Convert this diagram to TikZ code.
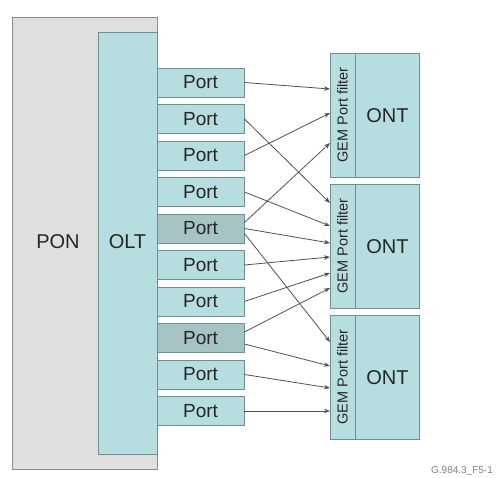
\documentclass[tikz,border=0pt]{standalone}
\usepackage{fontspec}
\setmainfont{Liberation Sans}
\usetikzlibrary{arrows.meta,calc}
\definecolor{ponfill}{HTML}{DFDFDF}
\definecolor{ponline}{HTML}{8C8C8C}
\definecolor{tealfill}{HTML}{B6DDE0}
\definecolor{tealline}{HTML}{6E8E92}
\definecolor{darkport}{HTML}{A6C4C3}
\definecolor{txt}{HTML}{262626}
\definecolor{wire}{HTML}{505050}
\begin{document}
\begin{tikzpicture}[x=1pt,y=-1pt,
  ponbox/.style={draw=ponline,line width=1pt,fill=ponfill,inner sep=0pt},
  oltbox/.style={draw=tealline,line width=0.9pt,fill=tealfill,inner sep=0pt},
  portbox/.style={draw=tealline,line width=0.9pt,fill=tealfill,minimum width=87pt,minimum height=29pt,inner sep=0pt,text=txt,font=\fontsize{19}{22}\selectfont},
  mportbox/.style={portbox,fill=darkport},
  ontbody/.style={draw=tealline,line width=0.9pt,fill=tealfill,minimum width=64pt,minimum height=124pt,inner sep=0pt,anchor=north west,text=txt,font=\fontsize{20}{24}\selectfont},
  gemstrip/.style={draw=tealline,line width=0.9pt,fill=tealfill,minimum width=124pt,minimum height=25pt,inner sep=0pt,rotate=90,text=txt,font=\fontsize{14.5}{16}\selectfont},
  biglabel/.style={text=txt,font=\fontsize{20}{24}\selectfont,inner sep=0pt},
  wirearrow/.style={draw=wire,line width=0.8pt,-{Stealth[length=6pt,width=4.5pt]}}
]
\useasboundingbox (0,0) rectangle (501,478);
% PON and OLT
\node[ponbox,minimum width=145pt,minimum height=452pt,anchor=north west] (pon) at (12,17) {};
\node[oltbox,minimum width=59pt,minimum height=422pt,anchor=north west] (olt) at (98,32) {};
\node[biglabel] (ponlbl) at (58,242) {PON};
\node[biglabel] (oltlbl) at (127.5,242) {OLT};
% Ports
\node[portbox] (p1) at (200.5,82.5) {Port};
\node[portbox] (p2) at (200.5,119) {Port};
\node[portbox] (p3) at (200.5,155.5) {Port};
\node[portbox] (p4) at (200.5,192) {Port};
\node[mportbox] (p5) at (200.5,228.5) {Port};
\node[portbox] (p6) at (200.5,265) {Port};
\node[portbox] (p7) at (200.5,301.5) {Port};
\node[mportbox] (p8) at (200.5,338) {Port};
\node[portbox] (p9) at (200.5,374.5) {Port};
\node[portbox] (p10) at (200.5,411) {Port};
% ONTs
\node[ontbody] (o1) at (355,53) {ONT};
\node[gemstrip] (g1) at (342.5,115) {GEM Port filter};
\node[ontbody] (o2) at (355,184) {ONT};
\node[gemstrip] (g2) at (342.5,246) {GEM Port filter};
\node[ontbody] (o3) at (355,315) {ONT};
\node[gemstrip] (g3) at (342.5,377) {GEM Port filter};
% arrow targets
\coordinate (a1) at (330,89);
\coordinate (a2) at (330,113);
\coordinate (a3) at (330,143);
\coordinate (b1) at (330,203);
\coordinate (b2) at (330,226);
\coordinate (b3) at (330,243);
\coordinate (b4) at (330,257);
\coordinate (b5) at (330,273);
\coordinate (b6) at (330,288);
\coordinate (c1) at (330,342);
\coordinate (c2) at (330,366);
\coordinate (c3) at (330,388);
\coordinate (c4) at (330,411);
% connectors
\draw[wirearrow] (p1.east) -- (a1);
\draw[wirearrow] (p2.east) -- (b1);
\draw[wirearrow] (p3.east) -- (a2);
\draw[wirearrow] (p4.east) -- (b2);
\draw[wirearrow] ($(p5.east)+(0,-6)$) -- (a3);
\draw[wirearrow] (p5.east) -- (b3);
\draw[wirearrow] ($(p5.east)+(0,5)$) -- (c1);
\draw[wirearrow] (p6.east) -- (b4);
\draw[wirearrow] (p7.east) -- (b5);
\draw[wirearrow] ($(p8.east)+(0,-6)$) -- (b6);
\draw[wirearrow] ($(p8.east)+(0,6)$) -- (c2);
\draw[wirearrow] (p9.east) -- (c3);
\draw[wirearrow] (p10.east) -- (c4);
% figure id
\node[text=gray,font=\fontsize{10}{12}\selectfont,inner sep=0pt] (figid) at (462,471) {G.984.3\_F5-1};
\end{tikzpicture}
\end{document}
